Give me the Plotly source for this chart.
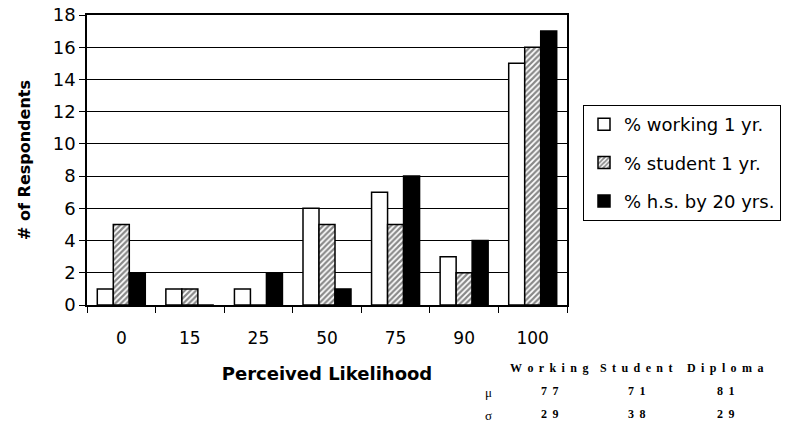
import plotly.graph_objects as go

categories = ["0", "15", "25", "50", "75", "90", "100"]
working = [1, 1, 1, 6, 7, 3, 15]
student = [5, 1, 0, 5, 5, 2, 16]
diploma = [2, 0, 2, 1, 8, 4, 17]
series_names = ["% working 1 yr.", "% student 1 yr.", "% h.s. by 20 yrs."]
y_ticks = [0, 2, 4, 6, 8, 10, 12, 14, 16, 18]

stat_cols = ["Working", "Student", "Diploma"]
stat_mu = [77, 71, 81]
stat_sigma = [29, 38, 29]

W, H = 785, 426
L, R, T, B = 87, 218, 15, 121
pw, ph = W - L - R, H - T - B

def px(x):
    return (x - L) / pw

def py(y):
    return (H - B - y) / ph

fig = go.Figure()
fig.add_bar(x=categories, y=working, name=series_names[0], legendgroup="a",
            marker=dict(color="white", line=dict(color="black", width=1.5)))
fig.add_bar(x=categories, y=student, name=series_names[1], legendgroup="b",
            marker=dict(color="white", line=dict(color="black", width=1.5),
                        pattern=dict(shape="/", fgcolor="#111", bgcolor="white",
                                     size=4, solidity=0.55)))
fig.add_bar(x=categories, y=diploma, name=series_names[2], legendgroup="c",
            marker=dict(color="black", line=dict(color="black", width=1.5)))

font = "DejaVu Sans, Arial, sans-serif"
serif = "Liberation Serif, Times New Roman, serif"

fig.update_layout(
    width=W, height=H,
    margin=dict(l=L, r=R, t=T, b=B, autoexpand=False),
    paper_bgcolor="white", plot_bgcolor="white",
    barmode="group", bargap=0.30, bargroupgap=0.0,
    hovermode=False,
    font=dict(family=font, color="black", size=17),
    showlegend=True,
    legend=dict(x=px(583), y=py(105), xanchor="left", yanchor="top",
                bordercolor="black", borderwidth=1, bgcolor="white",
                font=dict(size=18, family=font), traceorder="grouped",
                tracegroupgap=12, itemwidth=30),
    xaxis=dict(type="category", showline=True, linecolor="black", linewidth=1.5,
               mirror=True, ticks="outside", tickson="boundaries", ticklen=6,
               tickcolor="black", showgrid=False, automargin=False,
               ticklabelstandoff=17, ticklabeloverflow="allow",
               tickfont=dict(size=17, family=font),
               title=dict(text="<b>Perceived Likelihood</b>", font=dict(size=18),
                          standoff=20)),
    yaxis=dict(range=[0, 18], tickvals=y_ticks, showline=True, linecolor="black",
               linewidth=1.5, mirror=True, ticks="outside", ticklen=6,
               tickcolor="black", showgrid=True, gridcolor="black", gridwidth=1,
               automargin=False, ticklabeloverflow="allow",
               tickfont=dict(size=18, family=font),
               title=dict(text="<b># of Respondents</b>", font=dict(size=16),
                          standoff=18)),
)

SP = "\u00a0\u2009"
annotations = []
col_x = [549, 636, 725]
for name, cx in zip(stat_cols, col_x):
    annotations.append(dict(text="<b>" + SP.join(name) + "</b>", x=px(cx), y=py(368),
                            xref="paper", yref="paper", showarrow=False,
                            xanchor="center", yanchor="middle",
                            font=dict(family=serif, size=12)))
annotations.append(dict(text="μ", x=px(488), y=py(392), xref="paper", yref="paper",
                        showarrow=False, xanchor="center", yanchor="middle",
                        font=dict(family=serif, size=13)))
annotations.append(dict(text="σ", x=px(488), y=py(415), xref="paper", yref="paper",
                        showarrow=False, xanchor="center", yanchor="middle",
                        font=dict(family=serif, size=13)))
for v, cx in zip(stat_mu, col_x):
    annotations.append(dict(text="<b>" + SP.join(str(v)) + "</b>", x=px(cx), y=py(391),
                            xref="paper", yref="paper", showarrow=False,
                            xanchor="center", yanchor="middle",
                            font=dict(family=serif, size=12)))
for v, cx in zip(stat_sigma, col_x):
    annotations.append(dict(text="<b>" + SP.join(str(v)) + "</b>", x=px(cx), y=py(414),
                            xref="paper", yref="paper", showarrow=False,
                            xanchor="center", yanchor="middle",
                            font=dict(family=serif, size=12)))
fig.update_layout(annotations=annotations)

fig.write_html("out.html", config={"displayModeBar": False},
               post_script="document.body.style.margin='0';document.body.style.overflow='hidden';")
